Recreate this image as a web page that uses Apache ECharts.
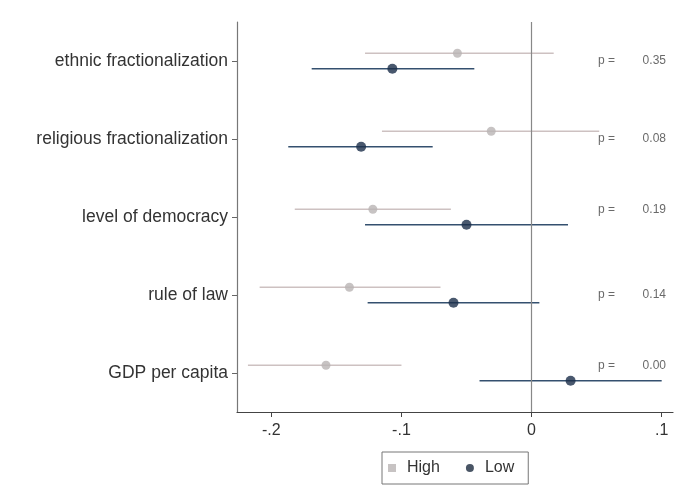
<!DOCTYPE html>
<html>
<head>
<meta charset="utf-8">
<script src="https://cdn.jsdelivr.net/npm/echarts@6/dist/echarts.min.js"></script>
<style>html,body{margin:0;padding:0;background:#fff;}#main{width:689px;height:498px;}</style>
</head>
<body>
<div id="main"></div>
<script>
const categories = ['ethnic fractionalization', 'religious fractionalization', 'level of democracy', 'rule of law', 'GDP per capita'];
const highEst = [-0.057, -0.031, -0.122, -0.140, -0.158];
const highLo  = [-0.128, -0.115, -0.182, -0.209, -0.218];
const highHi  = [0.017, 0.052, -0.062, -0.070, -0.100];
const lowEst  = [-0.107, -0.131, -0.050, -0.060, 0.030];
const lowLo   = [-0.169, -0.187, -0.128, -0.126, -0.040];
const lowHi   = [-0.044, -0.076, 0.028, 0.006, 0.100];
const pValues = ['0.35', '0.08', '0.19', '0.14', '0.00'];
const pRowShift = [0, 0, 0.1, 0, 0.1];
const xTicks = [-0.2, -0.1, 0, 0.1];
const xTickLabels = ['-.2', '-.1', '0', '.1'];

const n = categories.length;
const yPos = categories.map((c, i) => n - i);
const off = 0.1;
const font = "'Liberation Sans', Arial, Helvetica, sans-serif";

function barSeries(name, lo, hi, shift, color) {
  return {
    type: 'custom', name: name, silent: true, z: 2,
    data: lo.map((v, i) => [v, hi[i], yPos[i] + shift]),
    encode: { x: [0, 1], y: 2 },
    renderItem: function (params, api) {
      const a = api.coord([api.value(0), api.value(2)]);
      const b = api.coord([api.value(1), api.value(2)]);
      return { type: 'line', shape: { x1: a[0], y1: a[1], x2: b[0], y2: b[1] }, style: { stroke: color, lineWidth: 1.5 } };
    }
  };
}

const chart = echarts.init(document.getElementById('main'), null, { renderer: 'canvas' });
chart.setOption({
  backgroundColor: '#fff',
  animation: false,
  textStyle: { fontFamily: font },
  grid: { left: 237, right: 16, top: 22, bottom: 86, containLabel: false },
  xAxis: {
    type: 'value', min: -0.2264, max: 0.1087,
    axisLine: { show: true, onZero: false, lineStyle: { color: '#444', width: 1.2 } },
    axisTick: { show: true, customValues: xTicks, length: 5, lineStyle: { color: '#444' } },
    axisLabel: { customValues: xTicks, formatter: function (v) { const k = xTicks.findIndex(t => Math.abs(t - v) < 1e-9); return k >= 0 ? xTickLabels[k] : ''; }, color: '#333', fontSize: 16, margin: 11, fontFamily: font },
    splitLine: { show: false }
  },
  yAxis: {
    type: 'value', min: 0.5, max: 5.5,
    axisLine: { show: true, onZero: false, lineStyle: { color: '#777', width: 1.2 } },
    axisTick: { show: true, customValues: yPos, length: 5, lineStyle: { color: '#666' } },
    axisLabel: { customValues: yPos, formatter: function (v) { return categories[n - Math.round(v)]; }, color: '#333', fontSize: 17.5, margin: 9, fontFamily: font },
    splitLine: { show: false }
  },
  legend: {
    data: [{ name: 'High', icon: 'rect', itemStyle: { color: '#b9b4b4' } }, { name: 'Low', icon: 'circle', itemStyle: { color: '#1c2a3e' } }],
    left: 382, top: 452,
    itemWidth: 8, itemHeight: 8, itemGap: 26,
    padding: [8, 14, 8, 6],
    borderColor: '#777', borderWidth: 1,
    textStyle: { fontSize: 16, color: '#333', fontFamily: font, padding: [0, 0, 0, 6] }
  },
  series: [
    Object.assign(barSeries('High CI', highLo, highHi, off, '#cdc1c1'), {
      markLine: { silent: true, symbol: 'none', label: { show: false }, lineStyle: { color: '#888', width: 1.2, type: 'solid' }, data: [{ xAxis: 0 }] }
    }),
    barSeries('Low CI', lowLo, lowHi, -off, '#34506f'),
    {
      type: 'scatter', name: 'High', z: 3, symbol: 'circle', symbolSize: 9,
      itemStyle: { color: '#b9b4b4' },
      data: highEst.map((v, i) => [v, yPos[i] + off])
    },
    {
      type: 'scatter', name: 'Low', z: 3, symbol: 'circle', symbolSize: 10,
      itemStyle: { color: '#1c2e4a' },
      data: lowEst.map((v, i) => [v, yPos[i] - off])
    },
    {
      type: 'scatter', name: 'p eq', z: 4, symbolSize: 0, silent: true,
      data: pValues.map((p, i) => [0.051, yPos[i] + pRowShift[i]]),
      label: { show: true, position: 'right', distance: 0, color: '#444', fontSize: 12, fontFamily: font, formatter: 'p =' }
    },
    {
      type: 'scatter', name: 'p val', z: 4, symbolSize: 0, silent: true,
      data: pValues.map((p, i) => [0.1033, yPos[i] + pRowShift[i], p]),
      label: { show: true, position: 'left', distance: 0, color: '#444', fontSize: 12, fontFamily: font,
        formatter: function (d) { return d.value[2]; } }
    }
  ]
});
</script>
</body>
</html>
